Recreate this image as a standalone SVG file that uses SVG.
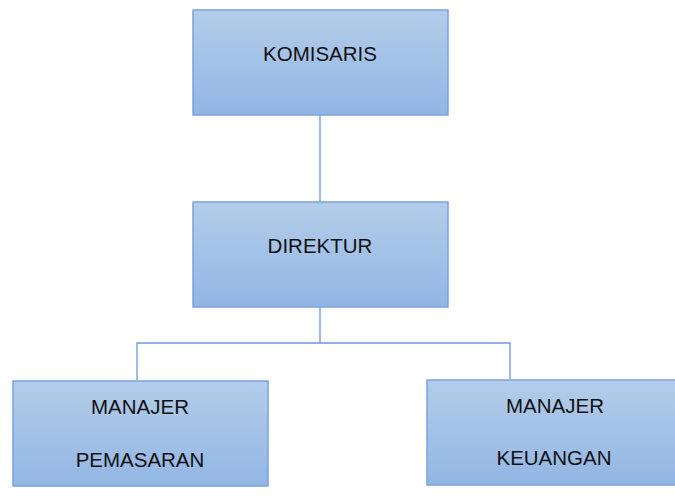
<svg xmlns="http://www.w3.org/2000/svg" width="675" height="497" viewBox="0 0 675 497">
<defs>
<linearGradient id="g" x1="0" y1="0" x2="0" y2="1">
<stop offset="0" stop-color="#b3cdea"/>
<stop offset="1" stop-color="#92b6e4"/>
</linearGradient>
<style>
.box{fill:url(#g);stroke:#7aa3dc;stroke-width:1.5}
.t{font-family:"Liberation Sans",Arial,sans-serif;font-size:20.5px;fill:#111;text-anchor:middle}
.c{stroke:#6f97d6;stroke-width:1.3;fill:none}
</style>
</defs>
<rect width="675" height="497" fill="#fff"/>
<g id="connectors">
<line class="c" x1="320" y1="115" x2="320" y2="202"/>
<line class="c" x1="320" y1="307" x2="320" y2="343"/>
<polyline class="c" points="137,380 137,343 510,343 510,379"/>
</g>
<g id="komisaris">
<rect class="box" x="193" y="10" width="255" height="105"/>
<text class="t" x="320" y="61">KOMISARIS</text>
</g>
<g id="direktur">
<rect class="box" x="193" y="202" width="255" height="105"/>
<text class="t" x="320" y="253">DIREKTUR</text>
</g>
<g id="manajer-pemasaran">
<rect class="box" x="13" y="381" width="255" height="105"/>
<text class="t" x="140" y="414">MANAJER</text>
<text class="t" x="140" y="467">PEMASARAN</text>
</g>
<g id="manajer-keuangan">
<rect class="box" x="427" y="380" width="256" height="105"/>
<text class="t" x="555" y="413">MANAJER</text>
<text class="t" x="554" y="465">KEUANGAN</text>
</g>
</svg>
